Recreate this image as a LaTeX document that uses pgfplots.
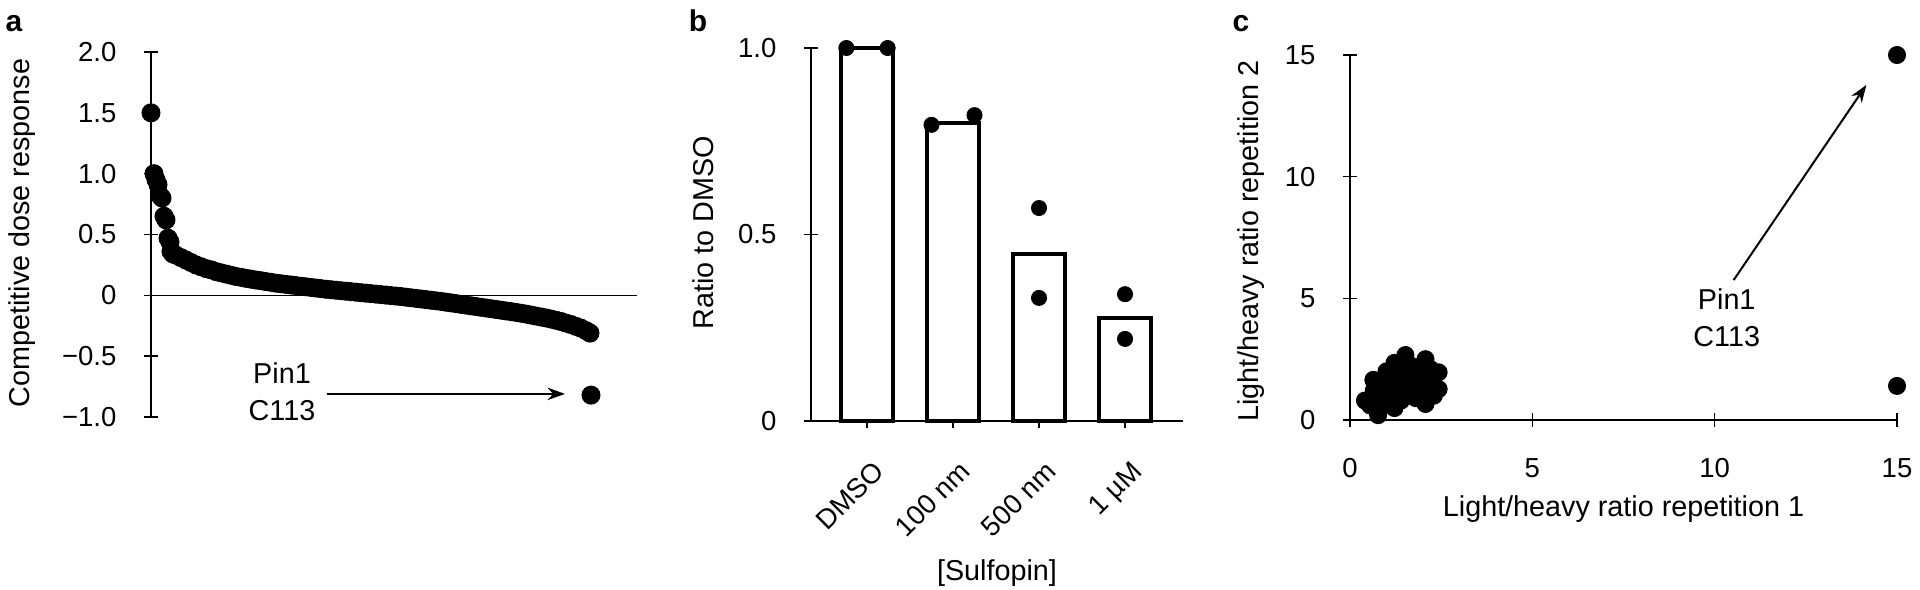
\documentclass[border=0pt]{standalone}
\usepackage{fontspec}
\setmainfont{Liberation Sans}
\usepackage{pgfplots}
\pgfplotsset{compat=1.18}
\usetikzlibrary{arrows.meta}
\newcommand{\lblfont}{\fontsize{11.5}{14.8}\selectfont}
\newcommand{\tickfont}{\fontsize{11}{13}\selectfont}
\pgfplotsset{
  mystyle/.style={
    scale only axis,
    clip=false,
    tick style={line width=0.6pt, black},
    tick align=outside,
    major tick length=5.6pt,
    every tick label/.append style={font=\tickfont},
    label style={font=\lblfont},
    /pgf/number format/assume math mode=true,
  },
  noarrows/.style={
    axis line style={line width=0.6pt, -},
    x axis line style={-},
    y axis line style={-},
    every outer x axis line/.append style={-},
    every outer y axis line/.append style={-},
    every inner x axis line/.append style={-},
    every inner y axis line/.append style={-},
    yticklabel style={xshift=-7.5pt},
  }
}
\begin{document}
\begin{tikzpicture}
\path[use as bounding box] (0pt,0pt) rectangle (768pt,-235.6pt);
% panel letters
\node[font=\bfseries\fontsize{12}{14}\selectfont, anchor=base] at (5.6pt,-12.8pt) {a};
\node[font=\bfseries\fontsize{12}{14}\selectfont, anchor=base] at (279.2pt,-12.8pt) {b};
\node[font=\bfseries\fontsize{12}{14}\selectfont, anchor=base] at (496.4pt,-12.8pt) {c};

% ---------------- panel a
\begin{axis}[mystyle, at={(60.4pt,-166.8pt)}, anchor=south west,
  width=194.4pt, height=146pt,
  xmin=0, xmax=486, ymin=-1, ymax=2,
  axis x line=none, axis y line=left, noarrows,
  ytick={-1,-0.5,0,0.5,1,1.5,2},
  yticklabels={−1.0,−0.5,0,0.5,1.0,1.5,2.0},
  ylabel={Competitive dose response},
  ylabel style={at={(rel axis cs:-0.265,0.504)}, anchor=center},
]
\draw[line width=0.6pt] (axis cs:0,0) -- (axis cs:486,0);
\addplot[only marks, mark=*, mark size=3.6pt, black] table {
x y
0 1.50
3 1.00
5 0.95
7 0.91
9 0.82
11 0.80
13 0.65
15 0.62
17 0.47
19 0.44
20 0.36
22 0.34
25 0.33
30 0.31
35 0.29
40 0.27
45 0.25
50 0.235
55 0.22
60 0.21
65 0.195
70 0.185
75 0.175
80 0.165
85 0.155
90 0.148
95 0.14
100 0.133
105 0.126
110 0.12
115 0.113
120 0.107
125 0.10
130 0.095
135 0.09
140 0.085
145 0.08
150 0.075
155 0.07
160 0.065
165 0.06
170 0.055
175 0.05
180 0.046
185 0.042
190 0.038
195 0.034
200 0.03
205 0.026
210 0.022
215 0.018
220 0.014
225 0.01
230 0.006
235 0.002
240 -0.002
245 -0.006
250 -0.01
255 -0.015
260 -0.02
265 -0.025
270 -0.03
275 -0.035
280 -0.04
285 -0.045
290 -0.05
295 -0.056
300 -0.062
305 -0.068
310 -0.074
315 -0.08
320 -0.086
325 -0.092
330 -0.098
335 -0.104
340 -0.11
345 -0.116
350 -0.122
355 -0.128
360 -0.134
365 -0.14
370 -0.147
375 -0.154
380 -0.162
385 -0.17
390 -0.178
395 -0.186
400 -0.195
405 -0.205
410 -0.215
415 -0.228
420 -0.24
425 -0.255
430 -0.27
435 -0.29
439 -0.31
440 -0.82
};
\draw[line width=0.8pt, -{Stealth[length=7pt,width=5pt]}] (axis cs:176,-0.81) -- (axis cs:414,-0.81);
\node[align=center, font=\lblfont] at (axis cs:131,-0.79) {Pin1\\C113};
\end{axis}

% ---------------- panel b
\begin{axis}[mystyle, at={(324.4pt,-168.4pt)}, anchor=south west,
  width=148.8pt, height=149.2pt,
  xmin=-0.651, xmax=3.674, ymin=0, ymax=1,
  axis x line=bottom, axis y line=left, noarrows,
  xtick={0,1,2,3}, xticklabels={DMSO,100 nm,500 nm,1 µM},
  xticklabel style={xshift=2pt, yshift=-12.4pt, rotate=45, anchor=north east, inner sep=0pt},
  ytick={0,0.5,1}, yticklabels={0,0.5,1.0},
  xlabel={[Sulfopin]},
  xlabel style={at={(rel axis cs:0.5,-0.407)}, anchor=center},
  ylabel={Ratio to DMSO},
  ylabel style={at={(rel axis cs:-0.29,0.504)}, anchor=center},
]
\addplot[ybar, bar width=20.8pt, fill=white, draw=black, line width=1.6pt] coordinates {(0,1.0) (1,0.80) (2,0.448) (3,0.276)};
\addplot[only marks, mark=*, mark size=3pt, black] coordinates {(-0.24,1.0) (0.24,1.0) (0.75,0.794) (1.25,0.82) (2,0.571) (2,0.33) (3,0.34) (3,0.22)};
\end{axis}

% ---------------- panel c
\begin{axis}[mystyle, at={(540pt,-168pt)}, anchor=south west,
  width=218.8pt, height=146pt,
  xmin=0, xmax=15, ymin=0, ymax=15,
  axis x line=bottom, axis y line=left, noarrows,
  xticklabel style={yshift=-9pt},
  xtick={0,5,10,15}, ytick={0,5,10,15},
  xlabel={Light/heavy ratio repetition 1},
  xlabel style={at={(rel axis cs:0.5,-0.243)}, anchor=center},
  ylabel={Light/heavy ratio repetition 2},
  ylabel style={at={(rel axis cs:-0.181,0.49)}, anchor=center},
]
\addplot[only marks, mark=*, mark size=3.4pt, black] coordinates {
(0.41,0.80) (0.55,0.60) (0.64,1.65) (0.65,1.2) (0.70,0.9) (0.77,0.20) (0.80,0.45)
(0.85,1.4) (0.90,1.0) (0.95,0.7) (1.0,1.7) (1.05,1.3) (1.1,0.9) (1.0,2.0)
(1.15,2.0) (1.22,2.35) (1.22,0.49) (1.25,1.6) (1.3,1.1) (1.35,2.1) (1.4,0.8)
(1.45,1.8) (1.52,2.67) (1.5,1.4) (1.55,1.0) (1.6,2.3) (1.65,1.7) (1.7,1.2)
(1.75,2.0) (1.8,0.9) (1.85,1.5) (1.9,2.2) (1.95,1.1) (2.0,1.8) (2.07,2.5)
(2.07,0.66) (2.1,1.4) (2.2,2.1) (2.25,1.7) (2.3,1.0) (2.43,1.96) (2.43,1.27)
(1.3,1.9) (15,15) (15,1.4)
};
\draw[line width=0.8pt, -{Stealth[length=7pt,width=5pt]}] (axis cs:10.52,5.75) -- (axis cs:14.16,13.77);
\node[align=center, font=\lblfont] at (axis cs:10.33,4.21) {Pin1\\C113};
\end{axis}
\end{tikzpicture}
\end{document}
